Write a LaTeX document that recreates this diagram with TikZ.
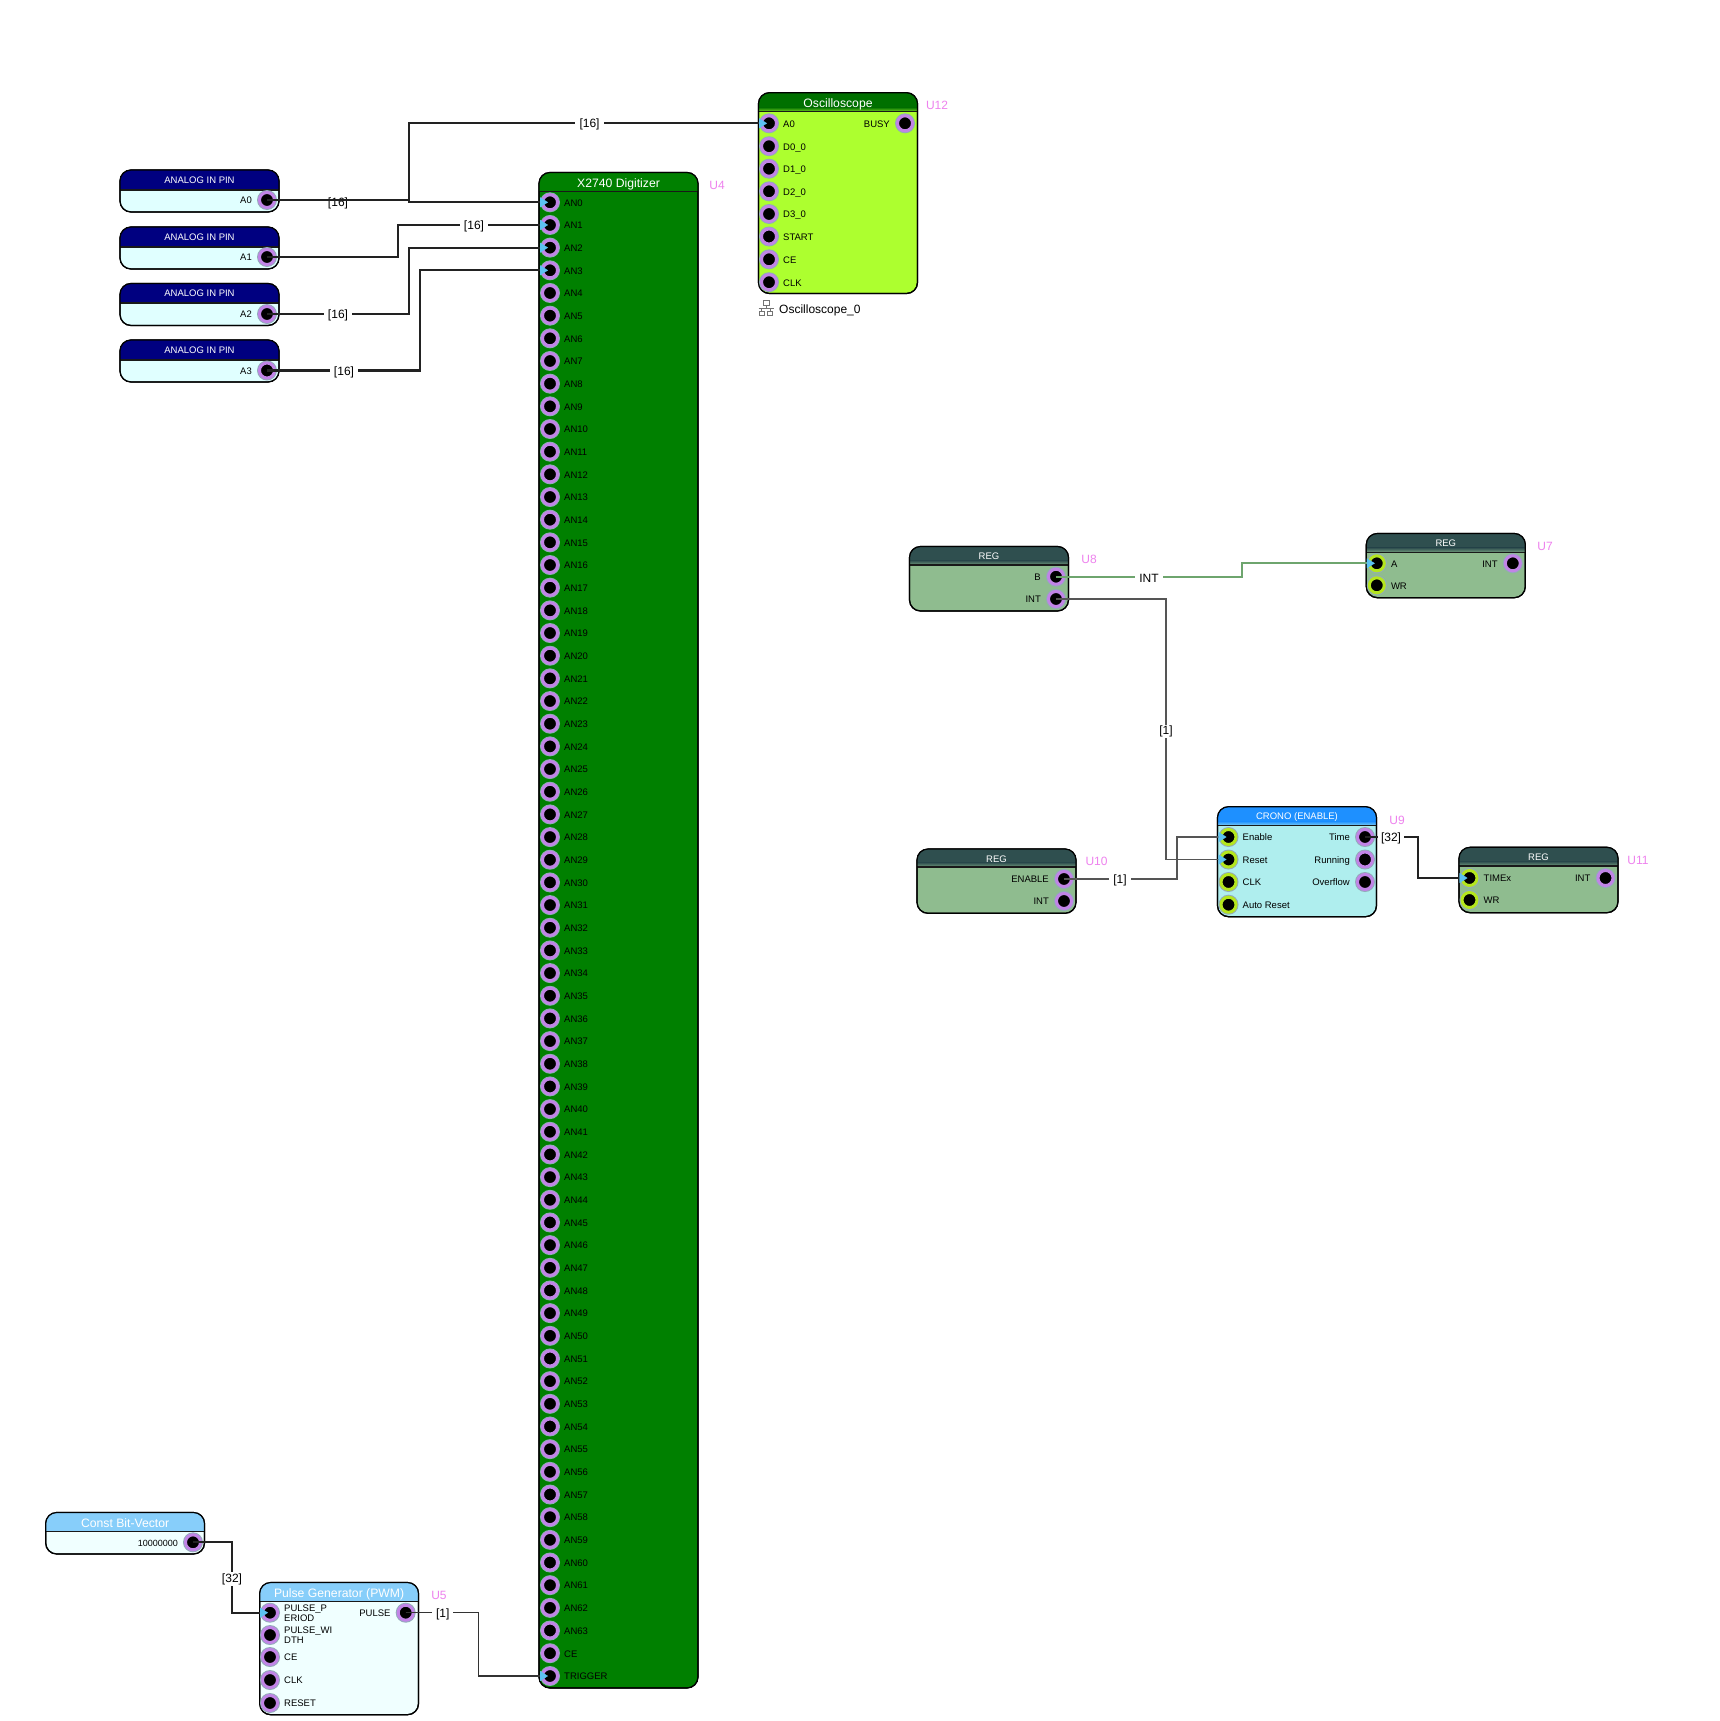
\documentclass[tikz,border=0pt]{standalone}
\usepackage{fontspec}
\setmainfont{Liberation Sans}
\usetikzlibrary{arrows.meta,calc}
\definecolor{portpurple}{HTML}{C184E6}
\definecolor{portyellow}{HTML}{B4E61E}
\definecolor{portedge}{HTML}{93ABBA}
\definecolor{tipblue}{HTML}{5CC2F2}
\definecolor{unamecol}{HTML}{EE82EE}
\definecolor{busdark}{HTML}{222222}
\definecolor{sigline}{HTML}{555555}
\definecolor{intgreen}{HTML}{6EA56E}
\definecolor{pinhead}{HTML}{000080}
\definecolor{pinbody}{HTML}{E0FFFF}
\definecolor{digi}{HTML}{008000}
\definecolor{oschead}{HTML}{007000}
\definecolor{oscbody}{HTML}{ADFF2F}
\definecolor{reghead}{HTML}{2F4F4F}
\definecolor{regbody}{HTML}{8FBC8F}
\definecolor{cronohead}{HTML}{1E90FF}
\definecolor{cronobody}{HTML}{AFEEEE}
\definecolor{pwmhead}{HTML}{87CEFA}
\definecolor{pwmbody}{HTML}{F0FFFF}
\tikzset{
  x=1pt,y=-1pt,
  blockbody/.style={draw=black,line width=1.2pt,rounded corners=11pt,inner sep=0pt,outer sep=0pt,anchor=center},
  blocktitle/.style={text=white,inner sep=0pt},
  portp/.style={circle,fill=black,draw=#1,line width=3pt,minimum size=15pt,inner sep=0pt,outer sep=0pt},
  plabel/.style={inner sep=0pt,text height=7pt,text depth=2pt,font=\fontsize{9.5}{10.5}\selectfont},
  plabeltwo/.style={inner sep=0pt,align=left,anchor=west,font=\fontsize{9.5}{10.5}\selectfont},
  uname/.style={text=unamecol,inner sep=0pt,yshift=-1pt,font=\fontsize{12}{13}\selectfont},
  wlabel/.style={fill=white,inner xsep=4pt,inner ysep=1pt,yshift=-1.2pt,font=\fontsize{12}{13}\selectfont},
  wlabelbare/.style={inner sep=0pt,yshift=-1.2pt,font=\fontsize{12}{13}\selectfont},
  inarrow/.style={-{Triangle[length=8pt,width=10pt,line width=0.3pt,fill=tipblue,color=tipblue]},shorten >=2pt},
  buswire/.style={draw=busdark,line width=2.2pt,line join=miter},
  sigwire/.style={draw=sigline,line width=1.5pt,line join=miter},
  thinwire/.style={draw=black!80,line width=1.2pt,line join=miter},
  greenwire/.style={draw=intgreen,line width=2pt,line join=miter},
  iconpart/.style={draw=black!55,line width=0.9pt,fill=white},
}
\newcommand{\tshift}{0.8}
\newif\ifbandon
% name x1 y1 x2 y2 headerbottom headercolour bodycolour title
\newcommand{\mkblock}[9]{%
  \pgfmathsetmacro{\bw}{#4-#2}\pgfmathsetmacro{\bh}{#5-#3}%
  \pgfmathsetmacro{\bcx}{(#2+#4)/2}\pgfmathsetmacro{\bcy}{(#3+#5)/2}%
  \pgfmathsetmacro{\tcy}{(#3+#6)/2+\tshift}%
  \pgfmathsetmacro{\bandy}{#6-4.5}%
  \pgfmathsetmacro{\bxa}{#2+0.6}\pgfmathsetmacro{\bxb}{#4-0.6}%
  \node[blockbody,fill=#8,minimum width=\bw pt,minimum height=\bh pt] (#1) at (\bcx,\bcy) {};
  \fill[#7] (#2,#6) [rounded corners=11pt] -- (#2,#3) -- (#4,#3) [sharp corners] -- (#4,#6) -- cycle;
  \ifbandon
    \shade[top color=#7,bottom color=#8!70!#7] (\bxa,\bandy) rectangle (\bxb,#6);
  \fi
  \draw[black!90,line width=1.1pt] (#2,#6) -- (#4,#6);
  \draw[black,line width=1.2pt,rounded corners=11pt] (#2,#3) rectangle (#4,#5);
  \node[blocktitle] (#1title) at (\bcx,\tcy) {\blockfont #9};
}
\newcommand{\lport}[5]{% name x y text colour
  \fill[portedge] (#2,#3) circle (10pt);
  \node[portp=#5] (#1) at (#2,#3) {};
  \node[plabel,anchor=west] (#1txt) at ($(#1.center)+(14,1.3)$) {#4};
}
\newcommand{\rport}[5]{%
  \fill[portedge] (#2,#3) circle (10pt);
  \node[portp=#5] (#1) at (#2,#3) {};
  \node[plabel,anchor=east] (#1txt) at ($(#1.center)+(-15,1.3)$) {#4};
}
\newcommand{\hvh}[4]{% style from xcoord to
  \draw[#1] (#2.center) -- (#2.center -| #3) -- (#4.center -| #3) -- (#4.center);
}
\newcommand{\smallfont}{\fontsize{9.5}{10.5}\selectfont}
\newcommand{\titlefont}{\fontsize{12.2}{13}\selectfont}
\newcommand{\blockfont}{\smallfont}
\begin{document}
\begin{tikzpicture}
\useasboundingbox (0,0) rectangle (1719,1721);
\fill[white] (0,0) rectangle (1719,1721);

% ---- analog pins
\renewcommand{\tshift}{0.3}
\mkblock{PA0}{120}{170}{279}{212}{190}{pinhead}{pinbody}{ANALOG IN PIN}
\mkblock{PA1}{120}{227}{279}{269}{247}{pinhead}{pinbody}{ANALOG IN PIN}
\mkblock{PA2}{120}{283.5}{279}{325.5}{303}{pinhead}{pinbody}{ANALOG IN PIN}
\mkblock{PA3}{120}{340}{279}{382}{360}{pinhead}{pinbody}{ANALOG IN PIN}
\rport{A0}{267}{200}{A0}{portpurple}
\rport{A1}{267}{257}{A1}{portpurple}
\rport{A2}{267}{314}{A2}{portpurple}
\rport{A3}{267}{370.5}{A3}{portpurple}

% ---- digitizer
\renewcommand{\blockfont}{\titlefont}
\renewcommand{\tshift}{2.3}
\mkblock{U4}{539}{172.5}{698}{1688}{191.5}{digi}{digi}{X2740 Digitizer}
\foreach \i in {0,...,63}{
  \pgfmathsetmacro{\py}{202.3+\i*22.67}
  \lport{DAN\i}{550}{\py}{AN\i}{portpurple}
}
\lport{DCE}{550}{1653.2}{CE}{portpurple}
\lport{DTRIG}{550}{1676}{TRIGGER}{portpurple}
\node[uname] (U4name) at (717,184) {U4};

% ---- oscilloscope
\bandontrue
\mkblock{U12}{758.5}{92.7}{917.5}{293.5}{111.7}{oschead}{oscbody}{Oscilloscope}
\lport{OA0}{769}{123.3}{A0}{portpurple}
\lport{OD0}{769}{146.2}{D0\_0}{portpurple}
\lport{OD1}{769}{168.7}{D1\_0}{portpurple}
\lport{OD2}{769}{191.3}{D2\_0}{portpurple}
\lport{OD3}{769}{214}{D3\_0}{portpurple}
\lport{OST}{769}{236.5}{START}{portpurple}
\lport{OCE}{769}{259.3}{CE}{portpurple}
\lport{OCK}{769}{282.2}{CLK}{portpurple}
\rport{OBU}{905}{123.3}{BUSY}{portpurple}
\node[uname] (U12name) at (937,104.5) {U12};
\node[anchor=west,inner sep=0pt,font=\fontsize{12}{13}\selectfont] (oscinst) at (779,310) {Oscilloscope\_0};
\draw[iconpart] (763,300.5) rectangle (769,305);
\draw[iconpart] (759.3,311) rectangle (764.3,315.7);
\draw[iconpart] (767.5,311) rectangle (772.5,315.7);
\draw[black!55,line width=0.9pt] (766,305) -- (766,308) (758.5,308) -- (773.5,308) (761.8,308) -- (761.8,311) (770,308) -- (770,311);

% ---- REG blocks
\renewcommand{\blockfont}{\smallfont}
\renewcommand{\tshift}{0.8}
\mkblock{U8}{909.5}{546.5}{1068.5}{611}{565}{reghead}{regbody}{REG}
\rport{U8B}{1056}{576.7}{B}{portpurple}
\rport{U8I}{1056}{599}{INT}{portpurple}
\node[uname] (U8name) at (1089,558) {U8};

\mkblock{U7}{1366.3}{533.5}{1525.3}{597.7}{552.3}{reghead}{regbody}{REG}
\lport{U7A}{1376.8}{563.3}{A}{portyellow}
\lport{U7W}{1376.8}{585.3}{WR}{portyellow}
\rport{U7I}{1512.8}{563.3}{INT}{portpurple}
\node[uname] (U7name) at (1545,545.7) {U7};

\mkblock{U10}{917}{849}{1076}{913.3}{867}{reghead}{regbody}{REG}
\rport{U10E}{1064}{879}{ENABLE}{portpurple}
\rport{U10I}{1064}{901}{INT}{portpurple}
\node[uname] (U10name) at (1096.5,860.7) {U10};

\mkblock{U9}{1217.5}{806.7}{1376.5}{916.7}{825.7}{cronohead}{cronobody}{CRONO (ENABLE)}
\lport{U9E}{1228.5}{837}{Enable}{portyellow}
\lport{U9R}{1228.5}{859.5}{Reset}{portyellow}
\lport{U9C}{1228.5}{882}{CLK}{portyellow}
\lport{U9A}{1228.5}{904.7}{Auto Reset}{portyellow}
\rport{U9T}{1365}{837}{Time}{portpurple}
\rport{U9U}{1365}{859.5}{Running}{portpurple}
\rport{U9O}{1365}{882}{Overflow}{portpurple}
\node[uname] (U9name) at (1397,819) {U9};

\mkblock{U11}{1459}{847.3}{1618}{912.7}{866}{reghead}{regbody}{REG}
\lport{U11T}{1469.5}{878}{TIMEx}{portyellow}
\lport{U11W}{1469.5}{900}{WR}{portyellow}
\rport{U11I}{1605.5}{878}{INT}{portpurple}
\node[uname] (U11name) at (1638,859.5) {U11};

% ---- const + PWM
\bandonfalse
\renewcommand{\blockfont}{\titlefont}
\mkblock{CB}{45.7}{1512.5}{204.5}{1554}{1531.3}{pwmhead}{pwmbody}{Const Bit-Vector}
\rport{CBV}{193}{1542.3}{\fontsize{9}{10}\selectfont 10000000}{portpurple}
\renewcommand{\tshift}{2.3}
\mkblock{U5}{259.7}{1582.5}{418.5}{1714.7}{1601.3}{pwmhead}{pwmbody}{Pulse Generator (PWM)}
\fill[portedge] (270,1612.7) circle (10pt);
\node[portp=portpurple] (PPER) at (270,1612.7) {};
\node[plabeltwo] (PPERt) at (284,1613) {PULSE\_P\\ERIOD};
\fill[portedge] (270,1635) circle (10pt);
\node[portp=portpurple] (PWID) at (270,1635) {};
\node[plabeltwo] (PWIDt) at (284,1635.3) {PULSE\_WI\\DTH};
\lport{PCE}{270}{1657}{CE}{portpurple}
\lport{PCK}{270}{1680}{CLK}{portpurple}
\lport{PRS}{270}{1703}{RESET}{portpurple}
\rport{PPU}{405.7}{1612.7}{PULSE}{portpurple}
\node[uname] (U5name) at (439,1594.7) {U5};

% ---- wire routing columns
\coordinate (c1) at (409,0);
\coordinate (c2) at (397.7,0);
\coordinate (c3) at (409,0);
\coordinate (c4) at (420.3,0);
\coordinate (c5) at (1241.6,0);
\coordinate (c6) at (1166,0);
\coordinate (c7) at (1177,0);
\coordinate (c8) at (1418,0);
\coordinate (c9) at (232,0);
\coordinate (c10) at (478.6,0);

% label below the A0 wire
\node[wlabelbare] (L0) at (338,202) {[16]};

% ---- wires
\hvh{buswire,inarrow}{A0}{c1}{DAN0}
\hvh{buswire,inarrow}{A0}{c1}{OA0}
\hvh{buswire,inarrow}{A1}{c2}{DAN1}
\hvh{buswire,inarrow}{A2}{c3}{DAN2}
\hvh{buswire,inarrow}{A3}{c4}{DAN3}
\hvh{greenwire,inarrow}{U8B}{c5}{U7A}
\hvh{sigwire,inarrow}{U8I}{c6}{U9R}
\hvh{sigwire,inarrow}{U10E}{c7}{U9E}
\hvh{buswire,inarrow}{U9T}{c8}{U11T}
\hvh{buswire,inarrow}{CBV}{c9}{PPER}
\hvh{thinwire,inarrow}{PPU}{c10}{DTRIG}

% ---- wire labels
\node[wlabel] (L1) at (589.5,123.3) {[16]};
\node[wlabel] (L2) at (474,225.5) {[16]};
\node[wlabel] (L3) at (338,314.5) {[16]};
\node[wlabel] (L4) at (344,371) {[16]};
\node[wlabel,inner xsep=4pt] (L5) at (1149,577) {INT};
\node[wlabel] (L6) at (1166,730) {[1]};
\node[wlabel] (L7) at (1120,879) {[1]};
\node[wlabel,inner xsep=3pt] (L8) at (1391,837) {[32]};
\node[wlabel,inner xsep=1pt] (L9) at (232,1577.7) {[32]};
\node[wlabel] (L10) at (442.7,1612.7) {[1]};
\end{tikzpicture}
\end{document}
